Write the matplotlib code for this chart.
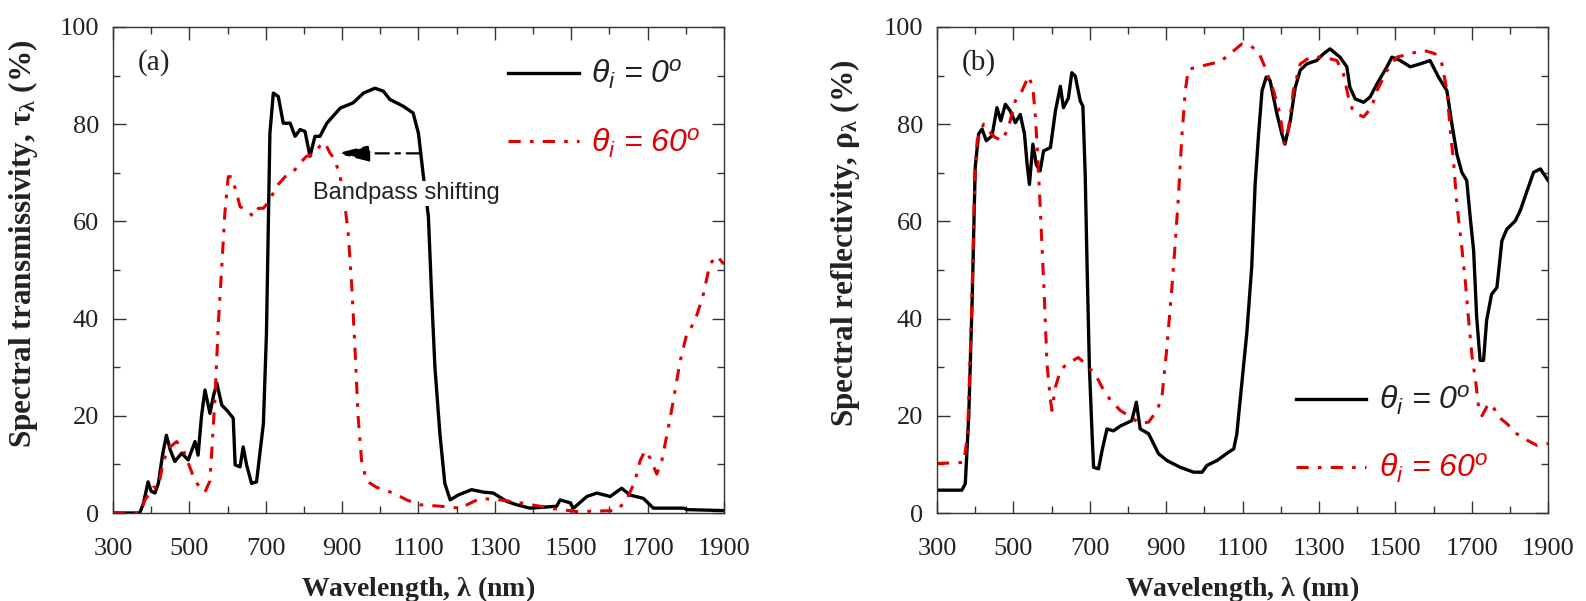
import numpy as np
import matplotlib as mpl
mpl.use('Agg')
import matplotlib.pyplot as plt
from matplotlib.ticker import MultipleLocator

# spectral data (wavelength in nm, value in %)
wl_tau_0 = [300, 370, 380, 392, 400, 410, 419, 430, 440, 450, 462, 480, 497, 515, 523, 532, 541, 554, 563,
            572, 585, 600, 615, 620, 633, 641, 650, 663, 676, 694, 702, 711, 720, 733, 746, 764, 777, 790,
            803, 816, 829, 842, 860, 895, 929, 956, 986, 1008, 1025, 1060, 1086, 1100, 1113, 1126, 1135,
            1143, 1156, 1169, 1183, 1204, 1239, 1270, 1296, 1331, 1357, 1392, 1462, 1471, 1497, 1506, 1541,
            1567, 1602, 1632, 1654, 1689, 1715, 1794, 1803, 1900]
tau_0 = [0, 0, 2, 6.4, 4.5, 4.1, 6.1, 12, 16.0, 13, 10.6, 12.3, 10.9, 14.7, 11.9, 20, 25.3, 20.5, 24,
         26.7, 22.2, 21, 19.5, 9.9, 9.5, 13.6, 9.9, 6.1, 6.4, 18.4, 37.0, 78.1, 86.4, 85.7, 80.2, 80.2, 77.5, 78.9,
         78.5, 73.4, 77.5, 77.5, 80.2, 83.3, 84.4, 86.4, 87.4, 86.8, 85.1, 83.7, 82.3, 78.1, 69.2, 61.0, 43.8,
         30.1, 16.4, 6.1, 2.7, 3.7, 4.8, 4.3, 4.1, 2.4, 1.7, 1.0, 1.4, 2.7, 2.1, 1.0, 3.4,
         4.1, 3.4, 5.1, 3.7, 3.0, 1.0, 1.0, 0.7, 0.5]

wl_tau_60 = [300, 370, 384, 395, 406, 419, 432, 445, 467, 484, 502, 515, 528, 541, 554, 567, 576, 585, 593,
             602, 611, 624, 633, 650, 667, 681, 694, 711, 728, 751, 773, 790, 807, 825, 842, 855, 868, 881,
             895, 908, 916, 925, 934, 942, 951, 964, 990, 1034, 1069, 1104, 1156, 1209, 1261, 1313, 1366,
             1418, 1444, 1514, 1619, 1645, 1667, 1680, 1693, 1706, 1724, 1737, 1754, 1767, 1785, 1802, 1824,
             1846, 1863, 1881, 1900]
tau_60 = [0, 0, 2.7, 4, 5.3, 5.3, 10.6, 13.3, 14.7, 13.0, 9.3, 6.6, 5.3, 4.3, 6.6, 23.3, 39.0, 50.7, 61.6,
          69.2, 69.2, 65.8, 63.0, 62.4, 61.0, 62.7, 62.7, 64.4, 67.2, 69.2, 70.3, 72.0, 73.4, 73.8, 75.5, 76.2, 74.1, 72.7,
          69.2, 63.0, 57.5, 47.2, 33.5, 19.8, 10.8, 6.6, 5.3, 4.1, 2.7, 1.7, 1.4, 1.0, 3.0, 2.7, 2.1,
          1.4, 1.0, 0.3, 0.5, 2.7, 6.6, 10.7, 12.8, 11.4, 8.0, 10.7, 17.5, 23.0, 31.2, 36.7, 39.5,
          45.0, 51.2, 52.9, 51.2]

wl_rho_0 = [300, 365, 374, 383, 392, 400, 409, 418, 429, 444, 457, 467, 479, 492, 505, 518, 529, 536, 542,
            551, 560, 570, 579, 597, 610, 623, 631, 644, 653, 662, 675, 682, 688, 693, 699, 706, 710, 723,
            732, 745, 762, 780, 810, 822, 832, 854, 880, 902, 937, 972, 994, 1007, 1033, 1063, 1077, 1085,
            1098, 1111, 1124, 1133, 1142, 1151, 1162, 1172, 1190, 1203, 1211, 1225, 1238, 1251, 1268, 1294,
            1312, 1329, 1355, 1373, 1381, 1395, 1417, 1434, 1452, 1478, 1491, 1513, 1539, 1565, 1591, 1613,
            1635, 1648, 1661, 1674, 1687, 1696, 1705, 1713, 1722, 1731, 1739, 1752, 1766, 1779, 1792, 1814,
            1827, 1845, 1862, 1880, 1900]
rho_0 = [4.7, 4.7, 6.0, 19.7, 43.7, 71.1, 78.0, 79.0, 76.6, 77.6, 83.4, 80.7, 84.1, 82.7, 80.3, 82.0, 78.0, 71.7, 67.6,
         75.9, 71.7, 70.4, 74.5, 75.2, 82.7, 87.8, 83.4, 85.4, 90.6, 89.9, 84.8, 83.7, 69.7, 50.6, 30.0, 16.3, 9.4, 9.1,
         12.8, 17.3, 16.9, 17.9, 19.0, 22.8, 17.3, 16.3, 12.2, 10.8, 9.4, 8.4, 8.4, 9.8, 10.8, 12.5, 13.2, 16.3,
         26.6, 36.9, 50.6, 67.7, 78.0, 86.9, 89.7, 89.0, 82.1, 78.0, 75.9, 80.7, 87.6, 91.1, 92.4, 93.1,
         94.5, 95.5, 93.8, 91.8, 87.6, 85.2, 84.5, 85.6, 88.3, 91.8, 93.8, 93.1, 91.8, 92.4, 93.1, 89.7,
         86.9, 80.1, 73.9, 70.1, 68.4, 60.9, 54.0, 40.3, 31.4, 31.4, 39.6, 45.0, 46.4, 56.0, 58.4, 60.1,
         62.2, 66.3, 70.1, 70.8, 68.4]

wl_rho_60 = [300, 370, 380, 390, 400, 405, 422, 435, 452, 470, 487, 505, 522, 540, 551, 557, 562, 569, 575,
             581, 588, 596, 601, 610, 623, 640, 670, 688, 714, 732, 754, 780, 806, 832, 854, 876, 889, 902,
             915, 923, 932, 941, 950, 958, 980, 1015, 1041, 1072, 1098, 1120, 1142, 1159, 1181, 1198, 1209,
             1220, 1233, 1251, 1277, 1312, 1347, 1364, 1377, 1390, 1417, 1438, 1452, 1478, 1504, 1539, 1574,
             1604, 1622, 1635, 1644, 1653, 1661, 1674, 1683, 1692, 1701, 1710, 1718, 1727, 1739, 1752, 1770,
             1792, 1818, 1845, 1871, 1900]
rho_60 = [10.2, 10.4, 16, 40, 70, 76.6, 80.0, 78.6, 77.3, 76.6, 79.3, 84.8, 86.8, 89.9, 87.5, 82.1, 75.9, 65.0, 54.7,
          44.4, 30.7, 23.9, 21.1, 25.9, 29.3, 30.7, 32.0, 30.7, 28.6, 25.9, 23.2, 21.1, 19.8, 18.4, 18.7, 21.1, 23.9, 34.1,
          46.4, 54.7, 65.0, 77.3, 86.8, 91.3, 91.7, 92.4, 92.8, 94.8, 96.5, 96.2, 94.8, 91.7, 86.9, 82.1, 76.0,
          78.7, 86.9, 92.4, 93.8, 93.8, 93.1, 90.4, 85.6, 82.5, 81.5, 83.5, 86.9, 91.0, 93.8, 94.5, 95.2,
          94.5, 92.4, 86.9, 78.7, 71.8, 63.6, 54.7, 47.9, 39.6, 32.1, 27.3, 21.8, 20.0, 21.8, 22.5, 19.8,
          18.4, 16.3, 15.0, 13.9, 14.3]

x_ticks = [300, 500, 700, 900, 1100, 1300, 1500, 1700, 1900]
y_ticks = [0, 20, 40, 60, 80, 100]

label_0 = r'$\mathit{\theta_i}$ = 0$^o$'
label_60 = r'$\mathit{\theta_i}$ = 60$^o$'

RED = '#e00000'
TXT = '#222222'
SERIF = 'Liberation Serif'

plt.rcParams['mathtext.fontset'] = 'custom'
plt.rcParams['mathtext.it'] = 'Liberation Sans:italic'
plt.rcParams['mathtext.rm'] = 'Liberation Sans:italic'
plt.rcParams['mathtext.bf'] = 'Liberation Serif:bold'


def style_axes(ax, ylabel, ylab_x):
    ax.set_xlim(300, 1900)
    ax.set_ylim(0, 100)
    ax.set_xticks(x_ticks)
    ax.set_yticks(y_ticks)
    ax.xaxis.set_minor_locator(MultipleLocator(100))
    ax.yaxis.set_minor_locator(MultipleLocator(10))
    ax.tick_params(which='both', direction='in', top=True, right=True, color='#333333', width=1.0)
    ax.tick_params(which='major', length=9, labelsize=19, labelcolor=TXT)
    ax.tick_params(axis='x', which='major', pad=18)
    ax.tick_params(axis='y', which='major', pad=10)
    ax.tick_params(which='minor', length=5)
    for lab in ax.get_xticklabels() + ax.get_yticklabels():
        lab.set_family(SERIF)
    for sp in ax.spines.values():
        sp.set_color('#333333')
        sp.set_linewidth(1.0)
    ax.set_xlabel(r'Wavelength, $\mathbf{\lambda}$ (nm)', fontsize=20, fontweight='bold',
                  family=SERIF, color=TXT, labelpad=10)
    ax.set_ylabel(ylabel, fontsize=22.5, fontweight='bold', family=SERIF, color=TXT)
    ax.yaxis.set_label_coords(ylab_x, 0.555)


def add_legend(ax, anchor):
    leg = ax.legend(loc='upper left', bbox_to_anchor=anchor, frameon=False,
                    prop={'family': 'Liberation Sans', 'style': 'italic', 'size': 23},
                    handlelength=2.2, handletextpad=0.4, labelspacing=1.1)
    leg.get_texts()[0].set_color(TXT)
    leg.get_texts()[1].set_color(RED)
    return leg


fig = plt.figure(figsize=(15.86, 6.01), dpi=100)
ax1 = fig.add_axes([0.0712, 0.1464, 0.3853, 0.8087])
ax2 = fig.add_axes([0.5908, 0.1464, 0.3853, 0.8087])

dash_dot = (0, (4, 3, 1.2, 3))

# (a) transmissivity
ax1.plot(wl_tau_0, tau_0, color='black', lw=2.4, label=label_0)
ax1.plot(wl_tau_60, tau_60, color=RED, lw=2.2, ls=dash_dot, label=label_60)
style_axes(ax1, r'Spectral transmissivity, $\mathbf{\tau_\lambda}$ (%)', -0.12)
add_legend(ax1, (0.6, 0.995))
ax1.text(0.041, 0.926, '(a)', transform=ax1.transAxes, fontsize=21, family=SERIF, color=TXT, va='center')
ax1.annotate('', xy=(886, 74), xytext=(1104, 74),
             arrowprops=dict(arrowstyle='-|>,head_length=1.0,head_width=0.25', mutation_scale=20,
                             lw=1.6, ls=(0, (6, 3, 2, 3)), color='black', shrinkA=0, shrinkB=0))
ax1.text(823, 65.8, 'Bandpass shifting', fontsize=17, family='Liberation Sans', color=TXT,
         va='center', ha='left', zorder=5,
         bbox=dict(facecolor='white', edgecolor='none', pad=1))

# (b) reflectivity
ax2.plot(wl_rho_0, rho_0, color='black', lw=2.4, label=label_0)
ax2.plot(wl_rho_60, rho_60, color=RED, lw=2.2, ls=dash_dot, label=label_60)
style_axes(ax2, r'Spectral reflectivity, $\mathbf{\rho_\lambda}$ (%)', -0.123)
add_legend(ax2, (0.54, 0.325))
ax2.text(0.041, 0.926, '(b)', transform=ax2.transAxes, fontsize=21, family=SERIF, color=TXT, va='center')

fig.savefig('out.png', dpi=100)
